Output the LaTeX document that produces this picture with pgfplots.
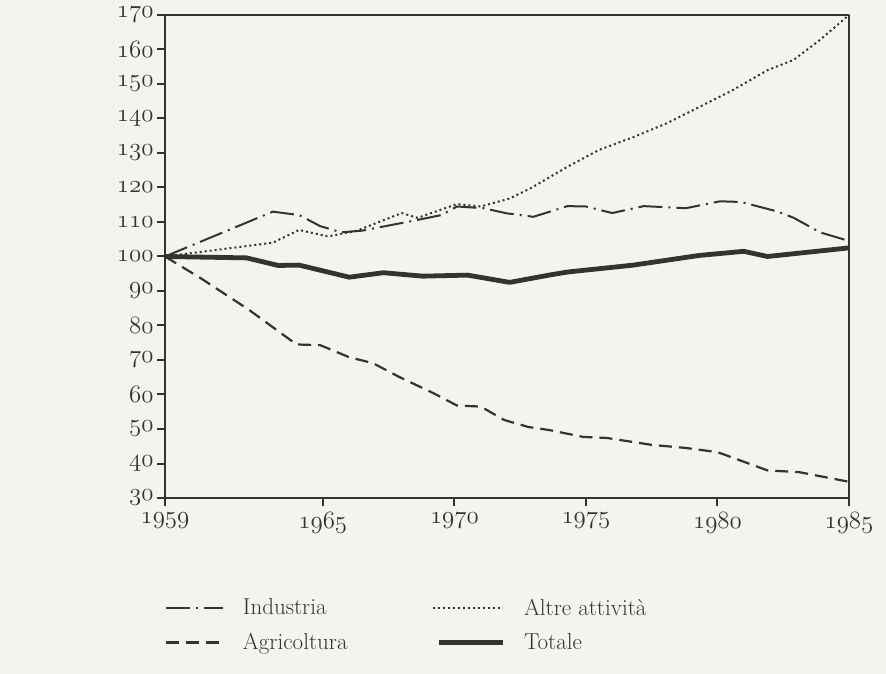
\documentclass[border=0pt]{standalone}
\usepackage{fontspec}
\usepackage{pgfplots}
\pgfplotsset{compat=1.18}
\definecolor{ink}{HTML}{333333}
\definecolor{paper}{HTML}{F4F3EE}
\newcommand\osn[1]{{\fontencoding{OML}\fontfamily{lmm}\fontseries{b}\fontshape{it}\fontsize{24}{26}\selectfont #1}}
\pgfplotsset{
  shortimg/.style={legend image code/.code={\draw[##1] (0pt,0pt) -- (57pt,0pt);}},
  longimg/.style={legend image code/.code={\draw[##1] (0pt,0pt) -- (70pt,0pt);}},
  totimg/.style={legend image code/.code={\draw[##1] (6pt,0pt) -- (70pt,0pt);}},
}
\begin{document}
\begin{tikzpicture}[font=\fontsize{23}{27}\selectfont]
\fill[paper] (-165pt,-176pt) rectangle (721pt,498pt);
\begin{axis}[
  at={(0,0)}, anchor=south west,
  width=684pt, height=483pt, scale only axis,
  xmin=1959, xmax=1985, ymin=30, ymax=170,
  clip=false,
  axis line style={draw=ink, line width=1.8pt},
  xtick pos=left, ytick pos=left,
  tick align=outside,
  major tick length=8pt,
  tick style={draw=ink, line width=2pt},
  xtick={1959,1965,1970,1975,1980,1985},
  xticklabels={\osn{1959},\osn{1965},\osn{1970},\osn{1975},\osn{1980},\osn{1985}},
  ytick={30,40,50,60,70,80,90,100,110,120,130,140,150,160,170},
  yticklabels={\osn{30},\osn{40},\osn{50},\osn{60},\osn{70},\osn{80},\osn{90},\osn{100},\osn{110},\osn{120},\osn{130},\osn{140},\osn{150},\osn{160},\osn{170}},
  ticklabel style={text=ink},
  xticklabel shift=3pt,
  legend columns=2,
  legend cell align=left,
  legend style={at={(axis description cs:-0.005,-0.20)}, anchor=north west, draw=none, fill=none, text=ink, row sep=13pt,
    /tikz/every odd column/.style={column sep=17pt},
    /tikz/every even column/.style={column sep=82pt}},
  shortimg,
  line join=round,
]
\addplot[ink, line width=2pt, dash pattern=on 24pt off 6pt on 2pt off 6pt] coordinates {
(1959,100) (1963.1,113) (1964.1,112) (1964.9,108.8) (1965.7,107) (1966.5,107.5)
(1968.6,110.6) (1969.5,112) (1970.1,114.5) (1971.1,114) (1972,112.5) (1973,111.5)
(1974.3,114.6) (1975,114.5) (1976,112.6) (1977.2,114.6) (1978.8,114) (1980.1,116)
(1980.9,115.8) (1982.3,113) (1982.9,111.2) (1983.9,107) (1985,104.5)};
\addlegendentry{Industria}
\addplot[ink, line width=2pt, dash pattern=on 2pt off 3pt, longimg] coordinates {
(1959,100) (1963.1,104) (1964.1,107.7) (1965.2,105.8) (1966.3,107.5) (1968.0,112.6)
(1968.6,111.2) (1970.1,115.2) (1971,114.5) (1972.1,116.8) (1972.9,119.8) (1974.3,126)
(1975.5,130.9) (1976.8,134.6) (1978.1,138.7) (1979.3,143.3) (1980.6,148.3) (1981.9,154)
(1982.9,157) (1983.9,162.8) (1985,170)};
\addlegendentry{Altre attività}
\addplot[ink, line width=2.2pt, dash pattern=on 13pt off 7pt] coordinates {
(1959,100) (1960.4,93.5) (1962.2,84.5) (1964,74.5) (1964.9,74.3) (1966,70.8)
(1966.9,69.1) (1967.9,65.1) (1969.2,60.4) (1970.1,56.8) (1971,56.5) (1971.9,52.6)
(1972.8,50.6) (1973.6,49.7) (1974.9,47.7) (1975.8,47.4) (1977.5,45.4) (1978.8,44.5)
(1980,43.3) (1981.9,38) (1983.1,37.5) (1985,34.7)};
\addlegendentry{Agricoltura}
\addplot[ink, line width=4.8pt, totimg] coordinates {
(1959,100) (1962.1,99.6) (1963.3,97.4) (1964.1,97.5) (1966,94) (1967.3,95.3)
(1968.8,94.3) (1970.5,94.6) (1972.1,92.5) (1973.6,94.6) (1974.3,95.5) (1976.8,97.5)
(1979.3,100.3) (1981,101.5) (1981.9,100) (1985,102.5)};
\addlegendentry{Totale}
\pgfplotsinvokeforeach{30,40,...,170}{\draw[ink, line width=2pt] (axis cs:1959,#1) -- ++(-8pt,0pt);}
\pgfplotsinvokeforeach{1959,1965,1970,1975,1980,1985}{\draw[ink, line width=2pt] (axis cs:#1,30) -- ++(0pt,-8pt);}
\end{axis}
\pgfresetboundingbox
\useasboundingbox (-165pt,-176pt) rectangle (721pt,498pt);
\end{tikzpicture}
\end{document}
